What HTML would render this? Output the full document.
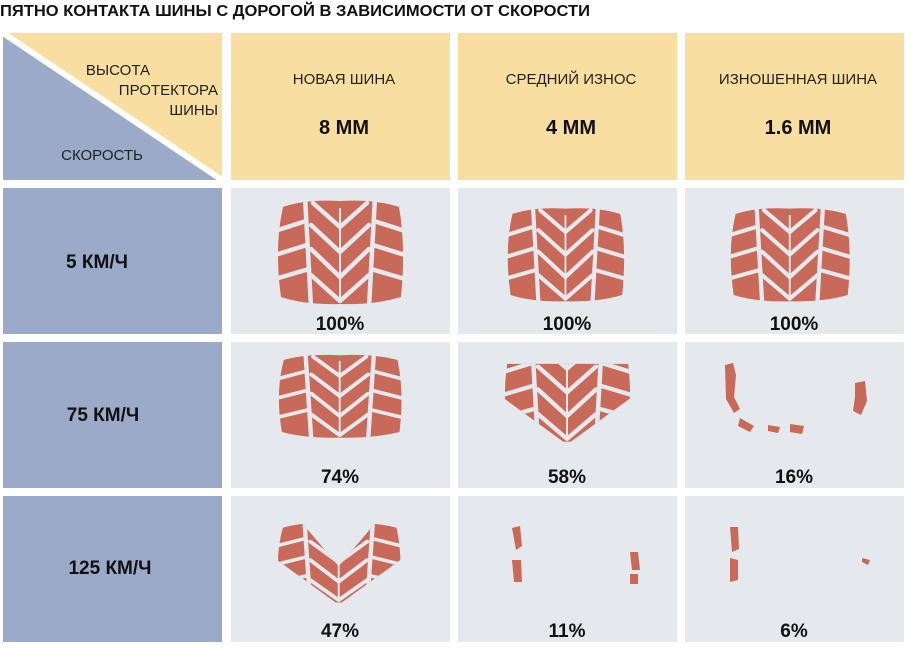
<!DOCTYPE html>
<html><head><meta charset="utf-8"><style>
html,body{margin:0;padding:0;background:#fff;width:910px;height:649px;overflow:hidden}
svg{display:block}
text{font-family:"Liberation Sans","DejaVu Sans",sans-serif}
</style></head><body>
<svg width="910" height="649" viewBox="0 0 910 649" xmlns="http://www.w3.org/2000/svg">
<defs>
<g id="tr">
<path d="M8,10 Q30,2 65,4 Q100,2 124,10 Q131,50 126,100 Q100,108 65,107 Q30,108 6,100 Q-1,50 8,10Z" fill="#c8695a"/>
<g stroke="#e5e8ec" stroke-width="4.5" fill="none" stroke-linecap="round">
<path d="M30,0 L36,110 M100,0 L94,110"/>
<path d="M65,30 L38,6 M65,30 L92,6 M65,55 L36,28 M65,55 L94,28 M65,80 L36,52 M65,80 L94,52 M65,104 L36,78 M65,104 L94,78"/>
<path d="M0,34 L31,24 M0,58 L32,48 M0,82 L34,72 M130,34 L99,24 M130,58 L98,48 M130,82 L96,72"/>
<path d="M65,12 L65,100" stroke-width="2"/>
</g>
</g>
<clipPath id="wing"><path d="M0,25 L130,25 L130,60 L65,110 L0,60Z"/></clipPath>
<clipPath id="vee"><path d="M0,0 L25,0 L65,60 L105,0 L130,0 L130,50 L65,110 L0,50Z"/></clipPath>
</defs>
<text x="0" y="16" font-size="16" font-weight="bold" fill="#111" textLength="590" lengthAdjust="spacingAndGlyphs">ПЯТНО КОНТАКТА ШИНЫ С ДОРОГОЙ В ЗАВИСИМОСТИ ОТ СКОРОСТИ</text>

<rect x="3" y="33" width="219" height="147" fill="#f8dea0"/>
<path d="M3,33 L222,180 L3,180Z" fill="#9aaac8"/>
<path d="M3,33 L222,180" stroke="#fff" stroke-width="6"/>
<g font-size="15" fill="#222" text-anchor="end">
<text x="150" y="75">ВЫСОТА</text>
<text x="218" y="95">ПРОТЕКТОРА</text>
<text x="218" y="115">ШИНЫ</text>
</g>
<text x="102" y="160" font-size="15" fill="#222" text-anchor="middle">СКОРОСТЬ</text>

<g fill="#f8dea0">
<rect x="231" y="33" width="219" height="147"/>
<rect x="458" y="33" width="219" height="147"/>
<rect x="685" y="33" width="219" height="147"/>
</g>
<g font-size="15" fill="#222" text-anchor="middle">
<text x="344" y="84">НОВАЯ ШИНА</text>
<text x="571" y="84">СРЕДНИЙ ИЗНОС</text>
<text x="798" y="84">ИЗНОШЕННАЯ ШИНА</text>
</g>
<g font-size="20" font-weight="bold" fill="#111" text-anchor="middle">
<text x="344" y="134">8 ММ</text>
<text x="571" y="134">4 ММ</text>
<text x="798" y="134">1.6 ММ</text>
</g>

<g fill="#9aaac8">
<rect x="3" y="188" width="219" height="146"/>
<rect x="3" y="342" width="219" height="146"/>
<rect x="3" y="496" width="219" height="146"/>
</g>
<g font-size="19" font-weight="bold" fill="#111" text-anchor="middle">
<text x="97" y="268">5 КМ/Ч</text>
<text x="103" y="421">75 КМ/Ч</text>
<text x="110" y="574">125 КМ/Ч</text>
</g>

<g fill="#e5e8ec">
<rect x="231" y="188" width="219" height="146"/><rect x="458" y="188" width="219" height="146"/><rect x="685" y="188" width="219" height="146"/>
<rect x="231" y="342" width="219" height="146"/><rect x="458" y="342" width="219" height="146"/><rect x="685" y="342" width="219" height="146"/>
<rect x="231" y="496" width="219" height="146"/><rect x="458" y="496" width="219" height="146"/><rect x="685" y="496" width="219" height="146"/>
</g>

<use href="#tr" x="275" y="197"/>
<g transform="translate(505,205) scale(0.93,0.9)"><use href="#tr"/></g>
<g transform="translate(728,205) scale(0.95,0.9)"><use href="#tr"/></g>
<g transform="translate(276,352) scale(0.98,0.8)"><use href="#tr"/></g>
<g transform="translate(502,340) scale(1.0,0.95)"><use href="#tr" clip-path="url(#wing)"/></g>
<g fill="#c8695a">
<path d="M725,365 l8,-2 l3,12 l-2,22 l6,12 l-6,4 l-8,-14z"/>
<path d="M740,418 l14,8 l-4,6 l-12,-6z"/>
<path d="M768,425 l12,2 l-2,6 l-10,-2z M790,424 l14,2 l-2,8 l-12,-2z"/>
<path d="M855,383 l10,-2 l2,20 l-6,14 l-8,-4 l2,-14z"/>
</g>
<g transform="translate(275,520) scale(0.98,0.77)"><use href="#tr" clip-path="url(#vee)"/></g>
<g fill="#c8695a">
<path d="M512,528 l8,-2 l2,20 l-6,4z M512,560 l9,0 l1,22 l-8,0z"/>
<path d="M630,552 l8,0 l2,18 l-8,0z M630,574 l8,0 l0,10 l-8,0z"/>
<path d="M730,527 l8,0 l1,22 l-7,3z M730,558 l8,2 l0,20 l-8,2z"/>
<path d="M862,558 l8,2 l-2,5 l-6,-3z"/>
</g>

<g font-size="19" font-weight="bold" fill="#111" text-anchor="middle">
<text x="340" y="330">100%</text><text x="567" y="330">100%</text><text x="794" y="330">100%</text>
<text x="340" y="483">74%</text><text x="567" y="483">58%</text><text x="794" y="483">16%</text>
<text x="340" y="637">47%</text><text x="567" y="637">11%</text><text x="794" y="637">6%</text>
</g>
</svg>
</body></html>
